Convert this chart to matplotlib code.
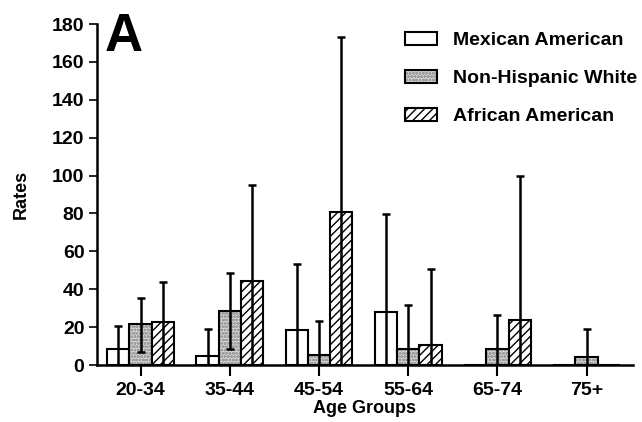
import numpy as np
import matplotlib.pyplot as plt
from matplotlib.patches import Patch

plt.rcParams['font.family'] = ['Liberation Sans', 'DejaVu Sans']
plt.rcParams['font.weight'] = 'bold'
plt.rcParams['axes.labelweight'] = 'bold'
plt.rcParams['hatch.linewidth'] = 1.0

groups = ["20-34", "35-44", "45-54", "55-64", "65-74", "75+"]
series = ["Mexican American", "Non-Hispanic White", "African American"]

# rates per group
mexican = [8.4, 4.8, 18.5, 28.0, 0, 0]
white = [21.6, 28.5, 5.3, 8.4, 8.4, 4.2]
african = [22.7, 44.4, 80.8, 10.6, 23.8, 0]

# upper and lower ends of the error bars
mexican_hi = [20.6, 19.0, 53.3, 79.7, np.nan, np.nan]
white_hi = [35.4, 48.6, 23.2, 31.7, 26.4, 19.0]
african_hi = [43.8, 95.0, 173.2, 50.7, 99.8, np.nan]
mexican_lo = [0, 0, 0, 0, np.nan, np.nan]
white_lo = [7.0, 8.4, 0, 0, 0, 0]
african_lo = [0, 0, 0, 0, 0, np.nan]

values = [mexican, white, african]
highs = [mexican_hi, white_hi, african_hi]
lows = [mexican_lo, white_lo, african_lo]
faces = ["white", "#dcdcdc", "white"]
hatches = [None, "ooooo", "////"]
hatch_cols = ["black", "#a0a0a0", "black"]

fig = plt.figure(figsize=(6.42, 4.22), dpi=100)
ax = fig.add_axes([0.151, 0.135, 0.835, 0.808])

x = np.arange(len(groups))
w = 0.25
for i in range(3):
    v = np.array(values[i])
    pos = x + (i - 1) * w
    # fill + hatch first, then the black outline on top
    ax.bar(pos, v, w, color=faces[i], edgecolor=hatch_cols[i], linewidth=0,
           hatch=hatches[i], zorder=2)
    ax.bar(pos, v, w, facecolor="none", edgecolor="black", linewidth=1.5,
           zorder=2)
    hi = np.array(highs[i])
    lo = np.array(lows[i])
    ok = ~np.isnan(hi)
    err = np.vstack([v[ok] - lo[ok], hi[ok] - v[ok]])
    ax.errorbar(pos[ok], v[ok], yerr=err, fmt="none", ecolor="black",
                elinewidth=1.8, capsize=2.8, capthick=1.8, zorder=3)

ax.set_xlim(-0.49, 5.52)
ax.set_ylim(0, 180)
ax.set_yticks(range(0, 181, 20))
ax.set_xticks(x)
ax.set_xticklabels(groups)
for s in ["top", "right"]:
    ax.spines[s].set_visible(False)
ax.spines["left"].set_linewidth(1.8)
ax.spines["bottom"].set_linewidth(1.8)
ax.tick_params(axis="y", length=6, width=1.2, labelsize=14, pad=3)
ax.tick_params(axis="x", length=8, width=1.5, labelsize=14, pad=4)

ax.set_ylabel("Rates", fontsize=13, labelpad=16)
ax.set_xlabel("Age Groups", fontsize=13, labelpad=1)

ax.text(0.015, 1.035, "A", transform=ax.transAxes, fontsize=38,
        fontweight="bold", va="top", ha="left")

handles = [(Patch(facecolor=faces[i], edgecolor=hatch_cols[i], linewidth=0,
                  hatch=hatches[i]),
            Patch(facecolor="none", edgecolor="black", linewidth=1.5))
           for i in range(3)]
ax.legend(handles, series, loc="upper left", bbox_to_anchor=(0.56, 1.0),
          frameon=False, fontsize=14, handlelength=1.65, handleheight=0.7,
          handletextpad=0.8, labelspacing=1.05, borderaxespad=0)

fig.savefig("out.png", dpi=100)
